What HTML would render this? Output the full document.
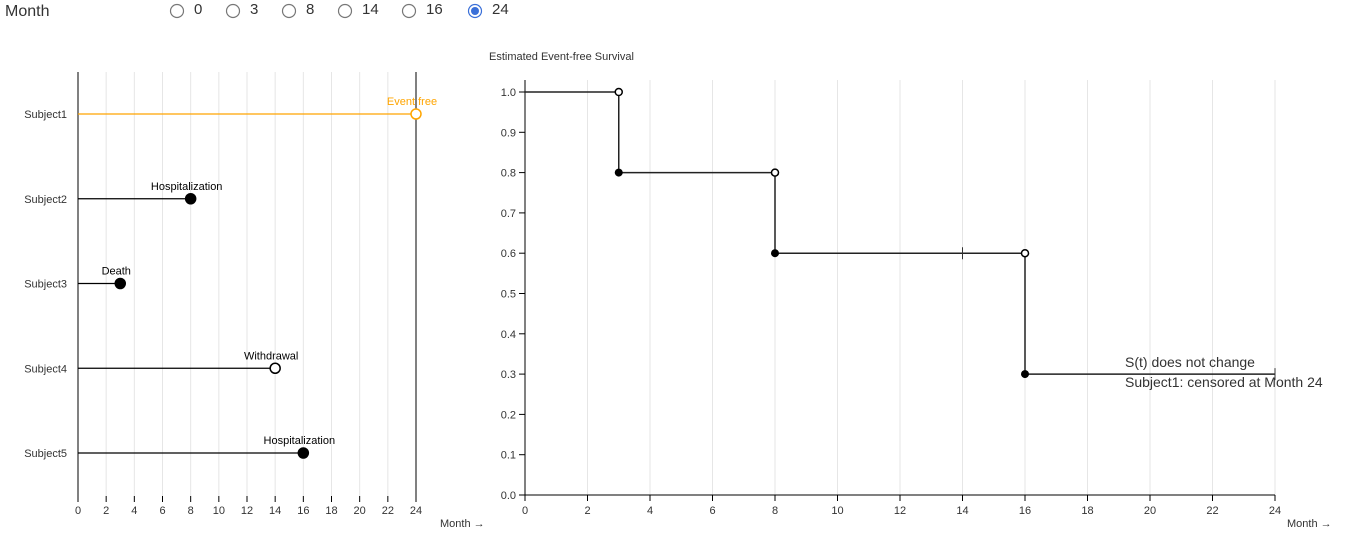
<!DOCTYPE html>
<html><head><meta charset="utf-8"><style>
body{margin:0;background:#fff;font-family:"Liberation Sans",sans-serif;width:1349px;height:539px;overflow:hidden;position:relative}
svg{position:absolute;left:0;top:0}
</style></head><body>
<svg id="s" width="1349" height="539"></svg>
<script>
const months=[0,3,8,14,16,24];
const selected=24;
const subjects=["Subject1","Subject2","Subject3","Subject4","Subject5"];
const subjTimes=[24,8,3,14,16];
const subjEvents=["Event free","Hospitalization","Death","Withdrawal","Hospitalization"];
const subjFilled=[false,true,true,false,true];
const xTicks=[0,2,4,6,8,10,12,14,16,18,20,22,24];
const yTicks=[0,0.1,0.2,0.3,0.4,0.5,0.6,0.7,0.8,0.9,1.0];
const kmTimes=[0,3,8,16,24];
const kmSurv=[1.0,0.8,0.6,0.3,0.3];
const censorTimes=[14,24];
const censorSurv=[0.6,0.3];

const s=document.getElementById('s');const NS='http://www.w3.org/2000/svg';
function el(t,a,txt,name,inter){const e=document.createElementNS(NS,t);for(const k in a)e.setAttribute(k,a[k]);if(txt!==undefined)e.textContent=txt;


s.appendChild(e);return e;}
// radio row
el('text',{x:5,y:16,'font-size':16,fill:'#333'},'Month','month-label');
const rx=[177,233,289,345,409,475];
months.forEach((m,i)=>{
 const on=m===selected;
 el('circle',{cx:rx[i],cy:11,r:6.5,fill:'#fff',stroke:on?'#3a6fd8':'#777','stroke-width':1.2},undefined,'radio-'+m,true);
 if(on){el('circle',{cx:rx[i],cy:11,r:4,fill:'#3a6fd8'},undefined,'radio-dot-'+m);}
 el('text',{x:rx[i]+17,y:14,'font-size':15,fill:'#333'},String(m),'radio-label-'+m,true);
});
// left chart
const lx=v=>78+v*(338/24);
const ly=i=>114+i*84.75;
xTicks.forEach(t=>{
 if(t>0)el('line',{x1:lx(t),x2:lx(t),y1:72,y2:496,stroke:'#e6e6e6'},undefined,'left-grid-'+t);
 el('line',{x1:lx(t),x2:lx(t),y1:496,y2:502,stroke:'#000'},undefined,'left-tick-'+t);
 el('text',{x:lx(t),y:514,'font-size':11,fill:'#333','text-anchor':'middle'},String(t),'left-tick-label-'+t);
});
el('line',{x1:78,x2:78,y1:72,y2:496,stroke:'#000'},undefined,'left-y-axis');
el('line',{x1:lx(selected),x2:lx(selected),y1:72,y2:496,stroke:'#000'},undefined,'month-marker-line');
el('text',{x:440,y:527,'font-size':11,fill:'#333'},'Month →','left-x-axis-title');
subjects.forEach((n,i)=>{
 const c=i===0?'#ffa500':'#000';
 el('text',{x:67,y:ly(i)+4,'font-size':11,fill:'#333','text-anchor':'end'},n,'subject-label-'+(i+1));
 el('line',{x1:78,x2:lx(subjTimes[i]),y1:ly(i),y2:ly(i),stroke:c,'stroke-width':1.2},undefined,'subject-line-'+(i+1));
 el('circle',{cx:lx(subjTimes[i]),cy:ly(i),r:5,fill:subjFilled[i]?c:'#fff',stroke:c,'stroke-width':1.5},undefined,'subject-event-'+(i+1));
 el('text',{x:lx(subjTimes[i])-4,y:ly(i)-9,'font-size':11,fill:i===0?'#ffa500':'#000','text-anchor':'middle'},subjEvents[i],'event-label-'+(i+1));
});
// right chart
const kx=v=>525+v*(750/24);
const ky=v=>495-v*403;
el('text',{x:489,y:60,'font-size':11,fill:'#333'},'Estimated Event-free Survival','km-y-axis-title');
xTicks.forEach(t=>{
 if(t>0)el('line',{x1:kx(t),x2:kx(t),y1:80,y2:495,stroke:'#e6e6e6'},undefined,'km-grid-'+t);
 el('line',{x1:kx(t),x2:kx(t),y1:495,y2:501,stroke:'#000'},undefined,'km-x-tick-'+t);
 el('text',{x:kx(t),y:514,'font-size':11,fill:'#333','text-anchor':'middle'},String(t),'km-x-tick-label-'+t);
});
yTicks.forEach(t=>{
 el('line',{x1:519,x2:525,y1:ky(t),y2:ky(t),stroke:'#000'},undefined,'km-y-tick');
 el('text',{x:516,y:ky(t)+4,'font-size':11,fill:'#333','text-anchor':'end'},t.toFixed(1),'km-y-tick-label');
});
el('line',{x1:525,x2:525,y1:80,y2:495,stroke:'#000'},undefined,'km-y-axis');
el('line',{x1:525,x2:1275,y1:495,y2:495,stroke:'#000'},undefined,'km-x-axis');
el('text',{x:1287,y:527,'font-size':11,fill:'#333'},'Month →','km-x-axis-title');
let d='M'+kx(kmTimes[0])+','+ky(kmSurv[0]);
for(let i=1;i<kmTimes.length;i++){d+=' H'+kx(kmTimes[i]);if(i<kmTimes.length-1)d+=' V'+ky(kmSurv[i]);}
el('path',{d:d,fill:'none',stroke:'#222','stroke-width':1.5},undefined,'km-step-line');
for(let i=1;i<kmTimes.length-1;i++){
 el('circle',{cx:kx(kmTimes[i]),cy:ky(kmSurv[i-1]),r:3.5,fill:'#fff',stroke:'#000','stroke-width':1.5},undefined,'km-open-point');
 el('circle',{cx:kx(kmTimes[i]),cy:ky(kmSurv[i]),r:4,fill:'#000'},undefined,'km-filled-point');
}
censorTimes.forEach((t,i)=>el('line',{x1:kx(t),x2:kx(t),y1:ky(censorSurv[i])-6,y2:ky(censorSurv[i])+6,stroke:'#333'},undefined,'censor-mark'));
el('text',{x:1125,y:367,'font-size':14,fill:'#333'},'S(t) does not change','annotation-line1');
el('text',{x:1125,y:387,'font-size':14,fill:'#333'},'Subject1: censored at Month 24','annotation-line2');
</script>
</body></html>
